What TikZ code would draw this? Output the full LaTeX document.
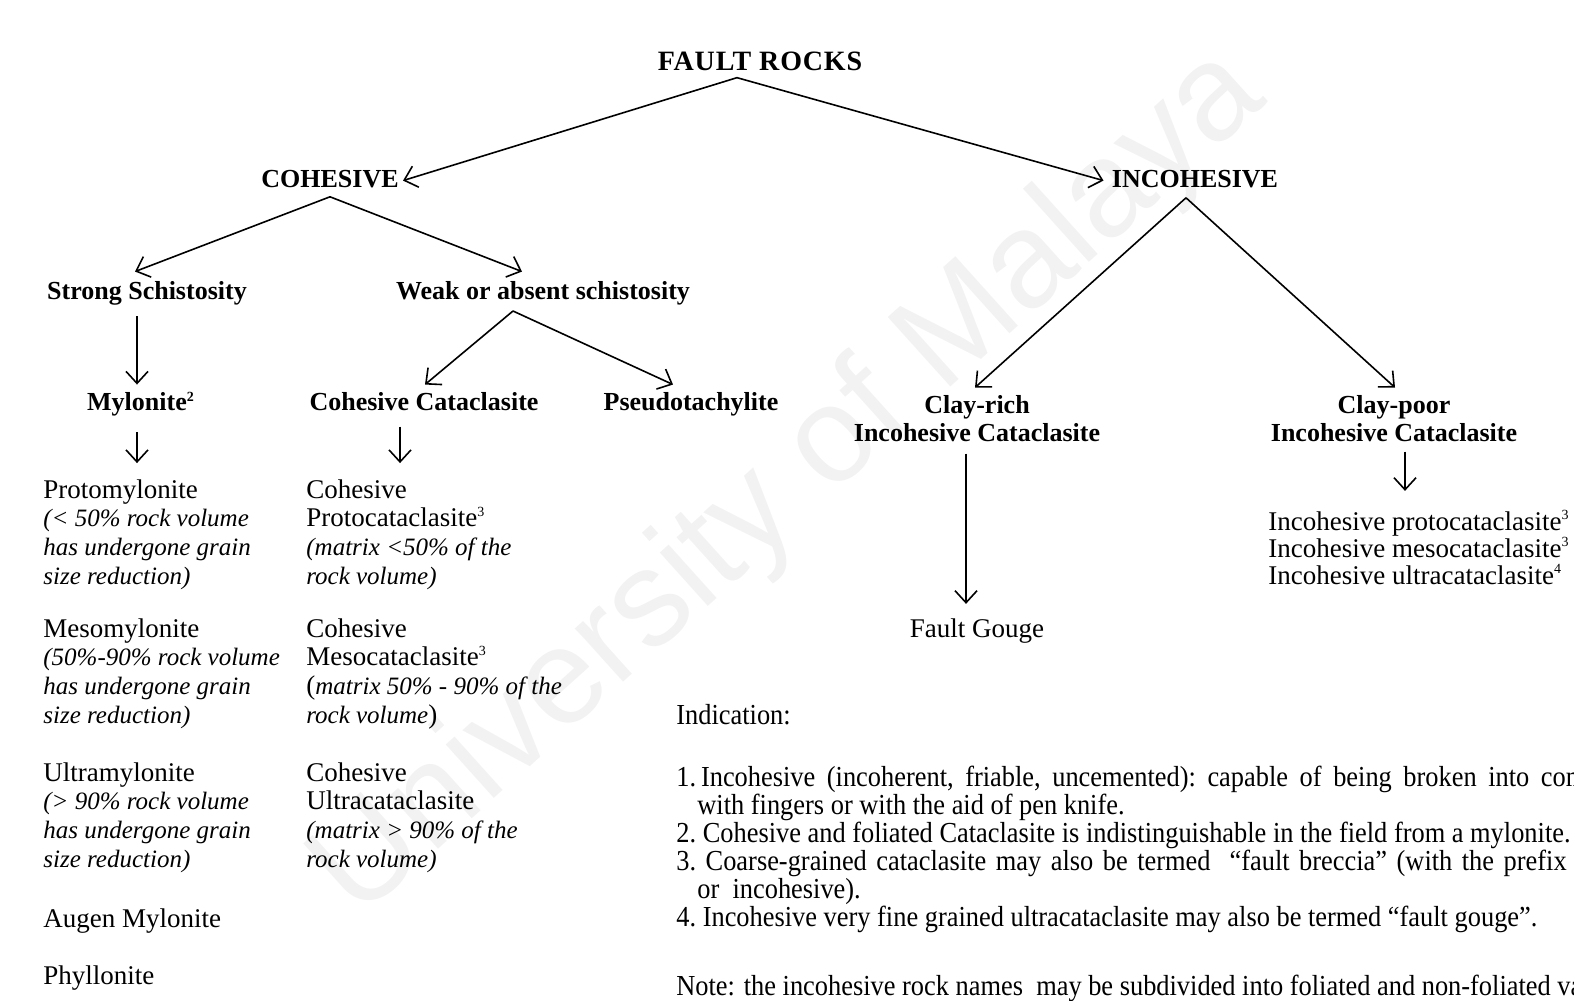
\documentclass[tikz,border=0pt]{standalone}
\usepackage{fontspec}
\setmainfont{Liberation Serif}
\newfontfamily\notefont[FakeStretch=0.91, Ligatures=TeX]{Liberation Serif}
\newfontfamily\markfont{Liberation Sans}
\usetikzlibrary{arrows.meta, calc}
\newcommand\fn[1]{\textsuperscript{\fontsize{7}{7}\selectfont #1}}
\newcommand\rit[1]{{\fontsize{12.5}{14}\selectfont\itshape #1}}

\begin{document}
\begin{tikzpicture}[x=0.5pt, y=-0.5pt,
        >={Straight Barb[length=6pt, width=11pt]},
        head/.style={font=\fontsize{13}{14}\selectfont\bfseries, inner sep=0pt, anchor=base, align=center},
        rock/.style={font=\fontsize{13.5}{14.3}\selectfont, inner sep=0pt, anchor=base west, align=left},
        note/.style={font=\notefont\fontsize{14.5}{14}\selectfont, inner sep=0pt, anchor=base west},
        link/.style={->, line width=0.8pt}]
    \useasboundingbox (0,0) rectangle (1574,1001);
    \node[rotate=42, text=black!5, font=\markfont\fontsize{68}{70}\selectfont] (mark) at (790,485) {University of Malaya};

        % classes
        \node[head, font=\fontsize{14}{14}\selectfont\bfseries\addfontfeature{LetterSpace=3}] (fault) at (760, 70) {FAULT ROCKS};
        \node[head] (coh) at (330, 187) {COHESIVE};
        \node[head] (incoh) at (1195, 187) {INCOHESIVE};
        \node[head] (strong) at (147, 299) {Strong Schistosity};
        \node[head] (weak) at (543, 299) {Weak or absent schistosity};
        \node[head] (mylo) at (141, 410) {Mylonite\fn{2}};
        \node[head] (cocat) at (424, 410) {Cohesive Cataclasite};
        \node[head] (pseudo) at (691, 410) {Pseudotachylite};
        \node[head] (clayrich) at (977, 441) {Clay-rich\\Incohesive Cataclasite};
        \node[head] (claypoor) at (1394, 441) {Clay-poor\\Incohesive Cataclasite};

        % rock names
        \node[rock] (protomy) at (43, 584) {Protomylonite\\\rit{(< 50\% rock volume}\\\rit{has undergone grain}\\\rit{size reduction)}};
        \node[rock] (mesomy) at (43, 723) {Mesomylonite\\\rit{(50\%-90\% rock volume}\\\rit{has undergone grain}\\\rit{size reduction)}};
        \node[rock] (ultramy) at (43, 867) {Ultramylonite\\\rit{(> 90\% rock volume}\\\rit{has undergone grain}\\\rit{size reduction)}};
        \node[rock] (augen) at (43, 927) {Augen Mylonite};
        \node[rock] (phyllo) at (43, 984) {Phyllonite};
        \node[rock] (protocat) at (306, 584) {Cohesive\\Protocataclasite\fn{3}\\\rit{(matrix <50\% of the}\\\rit{rock volume)}};
        \node[rock] (mesocat) at (306, 723) {Cohesive\\Mesocataclasite\fn{3}\\(\rit{matrix 50\% - 90\% of the}\\\rit{rock volume})};
        \node[rock] (ultracat) at (306, 867) {Cohesive\\Ultracataclasite\\\rit{(matrix > 90\% of the}\\\rit{rock volume)}};
        \node[rock, anchor=base] (gouge) at (977, 637) {Fault Gouge};
        \node[rock, font=\fontsize{13.5}{13.5}\selectfont] (incolist) at (1268, 584) {Incohesive protocataclasite\fn{3}\\Incohesive mesocataclasite\fn{3}\\Incohesive ultracataclasite\fn{4}};

        % notes
        \node[note] (indic) at (676, 724) {Indication:};
        \node[note, text width=496pt, align=justify] (notes) at (676, 786) {%
            \parindent=0pt\frenchspacing
            {\hangindent=10.5pt\hangafter=1 1.\,Incohesive (incoherent, friable, uncemented): capable of being broken into components\linebreak with fingers or with the aid of pen knife.\par}
            {2. Cohesive and foliated Cataclasite is indistinguishable in the field from a mylonite.\par}
            {\hangindent=10.5pt\hangafter=1 3. Coarse-grained cataclasite may also be termed \ ``fault breccia'' (with the prefix cohesive\linebreak or\ \ incohesive).\par}
            {4. Incohesive very fine grained ultracataclasite may also be termed ``fault gouge''.\par}};
        \node[note] (notenames) at (676, 995) {Note: the incohesive rock names \ may be subdivided into foliated and non-foliated varieties};

        \draw[link] ($(fault.south)+(-23,7)$) -- ($(coh.east)+(4,2)$);
        \draw[link] ($(fault.south)+(-23,7)$) -- ($(incoh.west)+(-8,2)$);
        \draw[link] ($(coh.south)+(0,9)$) -- ($(strong.north)+(-12,-9)$);
        \draw[link] ($(coh.south)+(0,9)$) -- ($(weak.north)+(-21,-9)$);
        \draw[link] ($(strong.south)+(-10,11)$) -- ($(mylo.north)+(-4,-7)$);
        \draw[link] ($(weak.south)+(-30,6)$) -- ($(cocat.north)+(1,-7)$);
        \draw[link] ($(weak.south)+(-30,6)$) -- ($(pseudo.north)+(-18,-7)$);
        \draw[link] ($(mylo.south)+(-4,16)$) -- ($(mylo.south |- protomy.north)+(-4,-16)$);
        \draw[link] ($(cocat.south)+(-24,16)$) -- ($(cocat.south |- protocat.north)+(-24,-16)$);
        \draw[link] ($(incoh.south)+(-9,10)$) -- ($(clayrich.north)+(-2,-7)$);
        \draw[link] ($(incoh.south)+(-9,10)$) -- ($(claypoor.north)+(1,-7)$);
        \draw[link] ($(clayrich.south)+(-11,12)$) -- ($(clayrich.south |- gouge.north)+(-11,-14)$);
        \draw[link] ($(claypoor.south)+(11,10)$) -- ($(claypoor.south |- incolist.north)+(11,-19)$);
    \end{tikzpicture}
\end{document}
